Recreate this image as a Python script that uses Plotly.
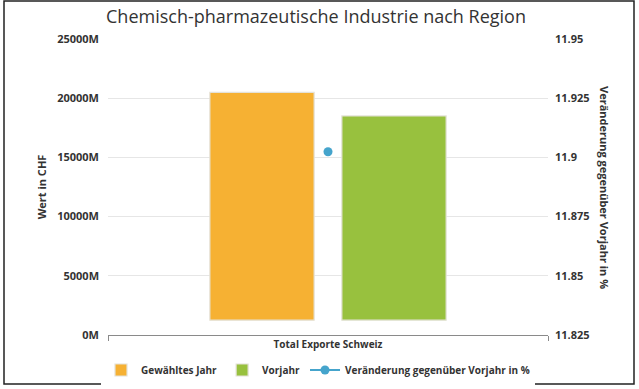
import plotly.graph_objects as go

categories = ["Total Exporte Schweiz"]
gewaehltes_jahr = [20500]
vorjahr = [18500]
veraenderung = [11.9024]
bar_base = [1250]

left_ticks = [0, 5000, 10000, 15000, 20000, 25000]
left_ticktext = ["0M", "5000M", "10000M", "15000M", "20000M", "25000M"]
right_ticks = [11.825, 11.85, 11.875, 11.9, 11.925, 11.95]
right_ticktext = ["11.825", "11.85", "11.875", "11.9", "11.925", "11.95"]

FONT = "Open Sans"
TXT = "#333333"

fig = go.Figure()
fig.add_trace(go.Bar(
    x=categories, y=[v - b for v, b in zip(gewaehltes_jahr, bar_base)], base=bar_base,
    name="Gewähltes Jahr", marker=dict(color="#F6B133", line=dict(color="#e4e2d8", width=1.2)),
))
fig.add_trace(go.Bar(
    x=categories, y=[v - b for v, b in zip(vorjahr, bar_base)], base=bar_base,
    name="Vorjahr", marker=dict(color="#98C13E", line=dict(color="#e4e2d8", width=1.2)),
))
fig.add_trace(go.Scatter(
    x=categories, y=veraenderung, yaxis="y2", mode="lines+markers",
    name="Veränderung gegenüber Vorjahr in %",
    marker=dict(color="#45A4CC", size=9), line=dict(color="#45A4CC", width=2),
))

fig.update_layout(
    width=639, height=389,
    margin=dict(l=108, r=91, t=39, b=54, autoexpand=False),
    paper_bgcolor="white", plot_bgcolor="white",
    font=dict(family=FONT, color=TXT, size=11),
    title=dict(text="Chemisch-pharmazeutische Industrie nach Region",
               x=316 / 639, xanchor="center", xref="container", y=1 - 17 / 389, yanchor="middle",
               font=dict(family=FONT, size=18, color=TXT)),
    barmode="group", bargap=0.4, bargroupgap=0.21,
    showlegend=True,
    legend=dict(orientation="h", xref="container", x=318 / 639, xanchor="center",
                yref="container", y=1 - 370 / 389, yanchor="middle",
                font=dict(family=FONT, size=10, color=TXT, weight="bold"),
                itemwidth=30, traceorder="normal"),
    xaxis=dict(showline=True, linecolor="#8a8a8a", linewidth=1,
               ticks="outside", tickson="boundaries", ticklen=5, tickcolor="#8a8a8a",
               tickfont=dict(family=FONT, size=10, color=TXT, weight="bold"),
               showgrid=False),
    yaxis=dict(range=[0, 25000], tickmode="array", tickvals=left_ticks, ticktext=left_ticktext,
               showgrid=True, gridcolor="#e6e6e6", gridwidth=1,
               zeroline=False, showline=False, ticklabelstandoff=8,
               tickfont=dict(family=FONT, size=11, color=TXT, weight="bold"),
               title=dict(text="Wert in CHF", standoff=8,
                          font=dict(family=FONT, size=11, color=TXT, weight="bold"))),
    yaxis2=dict(range=[11.825, 11.95], overlaying="y", side="right", tickmode="array",
                tickvals=right_ticks, ticktext=right_ticktext, showgrid=False,
                zeroline=False, showline=False, ticklabelstandoff=6,
                tickfont=dict(family=FONT, size=11, color=TXT, weight="bold")),
)

fig.add_annotation(text="Veränderung gegenüber Vorjahr in %", textangle=90,
                   xref="paper", yref="paper", x=(605 - 108) / 440, y=0.5,
                   xanchor="center", yanchor="middle", showarrow=False,
                   font=dict(family=FONT, size=11, color=TXT, weight="bold"))

fig.add_shape(type="rect", xref="paper", yref="paper",
              x0=(4 - 108) / 440, x1=(634 - 108) / 440,
              y0=(335 - 384) / 296, y1=(335 - 1) / 296,
              line=dict(color="#222222", width=1.5), fillcolor="rgba(0,0,0,0)", layer="above")

fig.write_html("out.html", config={"displayModeBar": False},
               post_script="document.body.style.margin='0';document.body.style.overflow='hidden';")
